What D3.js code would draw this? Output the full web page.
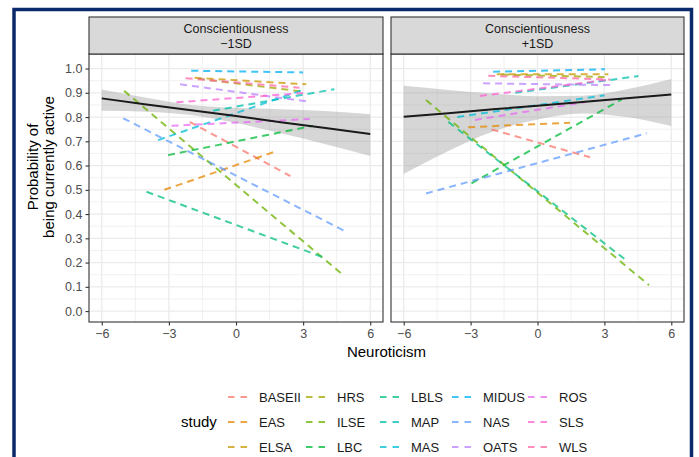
<!DOCTYPE html>
<html>
<head>
<meta charset="utf-8">
<script src="https://cdn.jsdelivr.net/npm/d3@7"></script>
<style>
body { margin: 0; background: #fff; }
text { font-family: "Liberation Sans", Arial, Helvetica, sans-serif; }
</style>
</head>
<body>
<svg id="chart"></svg>
<script>
var studies = ['BASEII', 'EAS', 'ELSA', 'HRS', 'ILSE', 'LBC', 'LBLS', 'MAP',
    'MAS', 'MIDUS', 'NAS', 'OATS', 'ROS', 'SLS', 'WLS'];
var panelTitles = [['Conscientiousness', '\u22121SD'], ['Conscientiousness', '+1SD']];
var xTicks = [-6, -3, 0, 3, 6];
var xMinorTicks = [-4.5, -1.5, 1.5, 4.5];
var yTicks = [0, 0.1, 0.2, 0.3, 0.4, 0.5, 0.6, 0.7, 0.8, 0.9, 1.0];
var yMinorTicks = [0.05, 0.15, 0.25, 0.35, 0.45, 0.55, 0.65, 0.75, 0.85, 0.95];

// per study: [x start, p start, x end, p end], same order as studies
var lowSegments = [
    [-2.07, 0.780, 2.43, 0.557],
    [-3.20, 0.500, 1.73, 0.657],
    [-1.85, 0.962, 3.14, 0.935],
    [-1.70, 0.958, 3.00, 0.905],
    [-5.00, 0.908, 4.85, 0.144],
    [-3.04, 0.643, 3.44, 0.764],
    [-4.00, 0.492, 4.04, 0.217],
    [-1.03, 0.826, 4.40, 0.915],
    [-3.48, 0.705, 2.96, 0.911],
    [-2.00, 0.991, 3.00, 0.984],
    [-5.04, 0.795, 4.93, 0.327],
    [-2.50, 0.935, 3.14, 0.865],
    [-2.88, 0.764, 3.29, 0.792],
    [-2.66, 0.861, 3.14, 0.900],
    [-2.25, 0.960, 2.84, 0.921]
];
var highSegments = [
    [-2.06, 0.749, 2.36, 0.634],
    [-3.11, 0.758, 1.46, 0.777],
    [-1.83, 0.976, 3.18, 0.976],
    [-1.60, 0.975, 3.00, 0.965],
    [-5.00, 0.870, 5.00, 0.107],
    [-2.96, 0.527, 3.78, 0.873],
    [-4.00, 0.780, 3.90, 0.215],
    [-1.00, 0.900, 4.53, 0.969],
    [-3.60, 0.800, 3.00, 0.890],
    [-1.99, 0.987, 3.03, 0.997],
    [-5.00, 0.485, 4.90, 0.733],
    [-2.44, 0.939, 3.26, 0.932],
    [-2.81, 0.788, 2.21, 0.863],
    [-2.58, 0.887, 3.26, 0.955],
    [-2.21, 0.970, 3.26, 0.955]
];

var fitX = [-6, -4, -2, 0, 2, 4, 6];
var lowFit = [0.877, 0.852, 0.828, 0.804, 0.779, 0.755, 0.730];
var lowUpper = [0.914, 0.880, 0.850, 0.838, 0.832, 0.825, 0.812];
var lowLower = [0.826, 0.822, 0.808, 0.775, 0.733, 0.688, 0.639];
var highFit = [0.801, 0.816, 0.832, 0.847, 0.862, 0.878, 0.893];
var highUpper = [0.929, 0.912, 0.897, 0.886, 0.888, 0.915, 0.957];
var highLower = [0.565, 0.660, 0.740, 0.790, 0.815, 0.800, 0.763];

function FacetChart() {
    var svg, yScale, colorScale;

    var dim = {
        width: 699,
        height: 457,
        stripTop: 17,
        panelTop: 54,
        panelBottom: 322,
        panels: [[89, 383], [391, 684]]
    };

    this.init = function(selector) {
        initSvg(selector);
        initScales();
        drawFrame();
        var panelData = [
            {segs: lowSegments, fit: lowFit, upper: lowUpper, lower: lowLower},
            {segs: highSegments, fit: highFit, upper: highUpper, lower: highLower}
        ];
        panelData.forEach(function(p, i) {
            drawPanel(i, p);
        });
        drawYAxis();
        drawTitles();
        drawLegend();
    };

    function initSvg(selector) {
        svg = d3.select(selector)
            .attr('width', dim.width)
            .attr('height', dim.height);
        svg.append('rect')
            .attr('width', dim.width)
            .attr('height', dim.height)
            .attr('fill', '#fff');
    }

    function initScales() {
        yScale = d3.scaleLinear()
            .domain([-0.045, 1.06])
            .range([dim.panelBottom, dim.panelTop]);
        colorScale = d3.scaleOrdinal()
            .domain(studies)
            .range(['#F8766D', '#E58700', '#C99800', '#A3A500', '#6BB100',
                '#00BA38', '#00BF7D', '#00C0AF', '#00BCD8', '#00B0F6',
                '#619CFF', '#B983FF', '#E76BF3', '#FD61D1', '#FF67A4']);
    }

    function drawFrame() {
        svg.append('rect')
            .attr('x', 14)
            .attr('y', 9.5)
            .attr('width', 677.5)
            .attr('height', 470)
            .attr('fill', 'none')
            .attr('stroke', '#0b2a6b')
            .attr('stroke-width', 3.5);
    }

    function panelX(i) {
        return d3.scaleLinear()
            .domain([-6.57, 6.57])
            .range(dim.panels[i]);
    }

    function drawPanel(i, p) {
        var xScale = panelX(i);
        var x0 = dim.panels[i][0], x1 = dim.panels[i][1];
        var g = svg.append('g').attr('class', 'panel-' + i);

        g.append('clipPath').attr('id', 'clip' + i)
            .append('rect')
            .attr('x', x0).attr('y', dim.panelTop)
            .attr('width', x1 - x0).attr('height', dim.panelBottom - dim.panelTop);

        // grid
        g.selectAll('.ymin').data(yMinorTicks).enter().append('line')
            .attr('x1', x0).attr('x2', x1)
            .attr('y1', yScale).attr('y2', yScale)
            .attr('stroke', '#ebebeb').attr('stroke-width', 0.7);
        g.selectAll('.xmin').data(xMinorTicks).enter().append('line')
            .attr('y1', dim.panelTop).attr('y2', dim.panelBottom)
            .attr('x1', xScale).attr('x2', xScale)
            .attr('stroke', '#ebebeb').attr('stroke-width', 0.7);
        g.selectAll('.ymaj').data(yTicks).enter().append('line')
            .attr('x1', x0).attr('x2', x1)
            .attr('y1', yScale).attr('y2', yScale)
            .attr('stroke', '#ebebeb').attr('stroke-width', 1.3);
        g.selectAll('.xmaj').data(xTicks).enter().append('line')
            .attr('y1', dim.panelTop).attr('y2', dim.panelBottom)
            .attr('x1', xScale).attr('x2', xScale)
            .attr('stroke', '#ebebeb').attr('stroke-width', 1.3);

        var inner = g.append('g').attr('clip-path', 'url(#clip' + i + ')');

        var band = d3.area()
            .x(function(d) { return xScale(d); })
            .y0(function(d, j) { return yScale(p.lower[j]); })
            .y1(function(d, j) { return yScale(p.upper[j]); })
            .curve(d3.curveMonotoneX);
        inner.append('path')
            .attr('d', band(fitX))
            .attr('fill', '#999')
            .attr('fill-opacity', 0.4);

        inner.selectAll('.study').data(p.segs).enter().append('line')
            .attr('x1', function(d) { return xScale(d[0]); })
            .attr('y1', function(d) { return yScale(d[1]); })
            .attr('x2', function(d) { return xScale(d[2]); })
            .attr('y2', function(d) { return yScale(d[3]); })
            .attr('stroke', function(d, j) { return colorScale(studies[j]); })
            .attr('stroke-opacity', 0.75)
            .attr('stroke-width', 2)
            .attr('stroke-dasharray', '7,5');

        var fitLine = d3.line()
            .x(function(d) { return xScale(d); })
            .y(function(d, j) { return yScale(p.fit[j]); });
        inner.append('path')
            .attr('d', fitLine(fitX))
            .attr('fill', 'none')
            .attr('stroke', '#1a1a1a')
            .attr('stroke-width', 2);

        g.append('rect')
            .attr('x', x0).attr('y', dim.panelTop)
            .attr('width', x1 - x0).attr('height', dim.panelBottom - dim.panelTop)
            .attr('fill', 'none').attr('stroke', '#333').attr('stroke-width', 1.1);

        // strip
        g.append('rect')
            .attr('x', x0).attr('y', dim.stripTop)
            .attr('width', x1 - x0).attr('height', dim.panelTop - dim.stripTop)
            .attr('fill', '#d9d9d9').attr('stroke', '#333').attr('stroke-width', 1.1);
        g.append('text')
            .attr('x', (x0 + x1) / 2).attr('y', 33)
            .attr('text-anchor', 'middle')
            .attr('font-size', '12.5px')
            .attr('fill', '#1a1a1a')
            .selectAll('tspan').data(panelTitles[i]).enter().append('tspan')
            .attr('x', (x0 + x1) / 2)
            .attr('dy', function(d, j) { return j ? 15 : 0; })
            .text(function(d) { return d; });

        var xAxis = d3.axisBottom(xScale)
            .tickValues(xTicks)
            .tickSize(3.5)
            .tickPadding(4)
            .tickFormat(d3.format('d'));
        var ax = g.append('g')
            .attr('transform', 'translate(0,' + dim.panelBottom + ')')
            .call(xAxis);
        styleAxis(ax);
    }

    function drawYAxis() {
        var yAxis = d3.axisLeft(yScale)
            .tickValues(yTicks)
            .tickSize(3.5)
            .tickPadding(3)
            .tickFormat(d3.format('.1f'));
        var ax = svg.append('g')
            .attr('transform', 'translate(' + dim.panels[0][0] + ',0)')
            .call(yAxis);
        styleAxis(ax);
    }

    function styleAxis(ax) {
        ax.select('.domain').remove();
        ax.selectAll('.tick line').attr('stroke', '#333').attr('stroke-width', 1.1);
        ax.selectAll('.tick text')
            .attr('fill', '#4d4d4d')
            .style('font-size', '12.5px')
            .style('font-family', '"Liberation Sans", Arial, sans-serif');
    }

    function drawTitles() {
        svg.append('text')
            .attr('x', (dim.panels[0][0] + dim.panels[1][1]) / 2)
            .attr('y', 357)
            .attr('text-anchor', 'middle')
            .attr('font-size', '15px')
            .text('Neuroticism');
        var yt = svg.append('text')
            .attr('transform', 'translate(0,' + 167 + ') rotate(-90)')
            .attr('text-anchor', 'middle')
            .attr('font-size', '15px');
        yt.append('tspan').attr('x', 0).attr('y', 38).text('Probability of');
        yt.append('tspan').attr('x', 0).attr('y', 54).text('being currently active');
    }

    function drawLegend() {
        var colX = [228, 306, 380, 452, 528];
        var rowY = [397, 422, 447];
        svg.append('text')
            .attr('x', 181).attr('y', rowY[1] + 5)
            .attr('font-size', '15px')
            .text('study');
        var items = svg.selectAll('.key').data(studies).enter().append('g')
            .attr('transform', function(d, j) {
                return 'translate(' + colX[Math.floor(j / 3)] + ',' + rowY[j % 3] + ')';
            });
        items.append('line')
            .attr('x1', 0).attr('x2', 19)
            .attr('stroke', function(d) { return colorScale(d); })
            .attr('stroke-opacity', 0.75)
            .attr('stroke-width', 2)
            .attr('stroke-dasharray', '6.5,6');
        items.append('text')
            .attr('x', 31).attr('y', 4.5)
            .attr('font-size', '13px')
            .attr('fill', '#1a1a1a')
            .text(function(d) { return d; });
    }
}

var chart = new FacetChart();
chart.init('#chart');
</script>
</body>
</html>
